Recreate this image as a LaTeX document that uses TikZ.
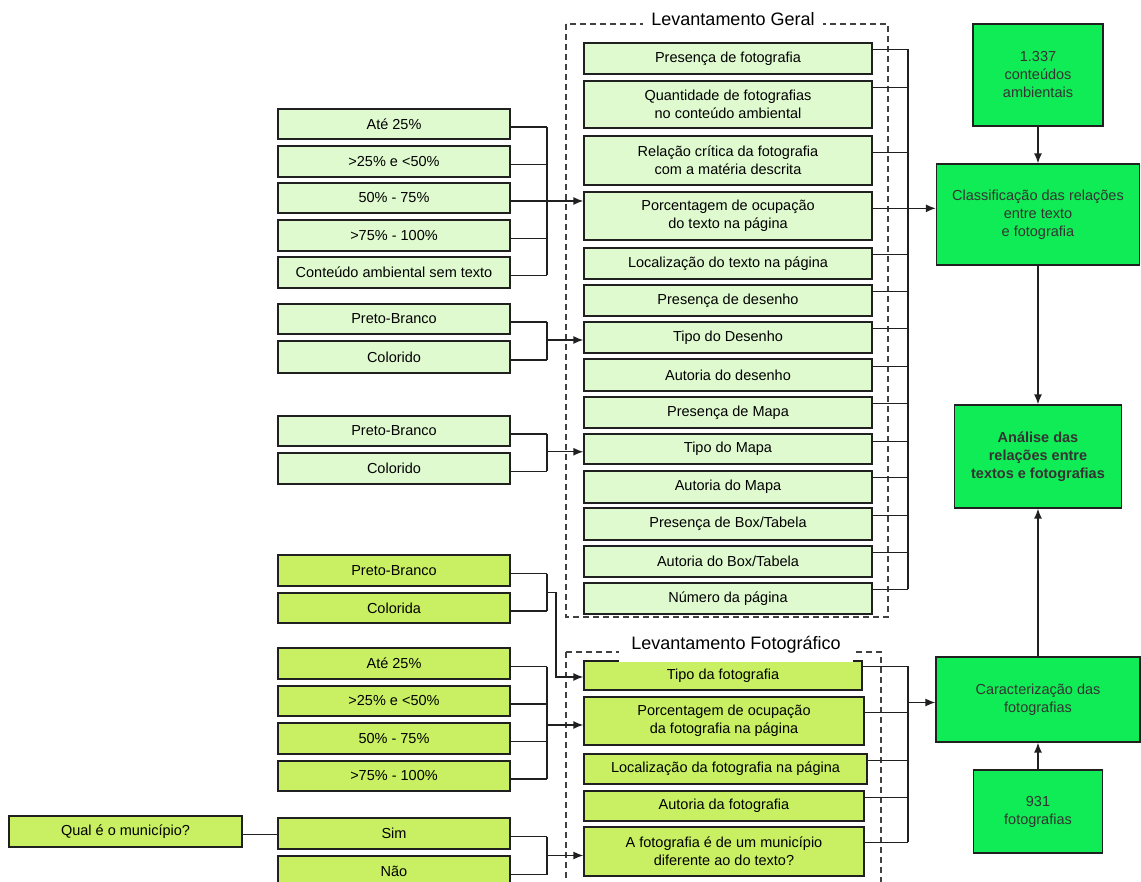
\documentclass[tikz,border=0pt]{standalone}
\usepackage{fontspec}
\setmainfont{Liberation Sans}
\usetikzlibrary{arrows.meta,calc}
\definecolor{lg}{HTML}{E0FAD0}
\definecolor{yg}{HTML}{C8F062}
\definecolor{bg}{HTML}{10EC55}
\definecolor{ln}{HTML}{202020}
\begin{document}
\begin{tikzpicture}[x=1pt,y=-1pt,
 every node/.style={font=\fontsize{14.5}{18}\selectfont},
 boxL/.style={draw=ln, line width=1.3pt, fill=lg, align=center, inner sep=0pt},
 boxY/.style={boxL, fill=yg},
 boxG/.style={boxL, fill=bg, text=black!80},
 conn/.style={draw=ln, line width=1.4pt},
 arr/.style={conn, -{Latex[length=10pt,width=8pt]}},
 frame/.style={draw=ln!85, line width=1.4pt, dash pattern=on 6pt off 4pt},
 ttl/.style={fill=white, font=\fontsize{18}{20}\selectfont, inner ysep=2pt}
]
\useasboundingbox (0,0) rectangle (1141,882);
\clip (0,0) rectangle (1141,882);

% frames
\draw[frame] (566,24) rectangle (888,617);
\draw[frame] (566,652) rectangle (881,900);

% Levantamento Geral boxes
\node[boxL, minimum width=288pt, minimum height=31pt] (b1) at (728,58.5) {Presença de fotografia};
\node[boxL, minimum width=288pt, minimum height=47pt] (b2) at (728,104.5) {Quantidade de fotografias\\no conteúdo ambiental};
\node[boxL, minimum width=288pt, minimum height=49pt] (b3) at (728,160.5) {Relação crítica da fotografia\\com a matéria descrita};
\node[boxL, minimum width=288pt, minimum height=48pt] (b4) at (728,216) {Porcentagem de ocupação\\do texto na página};
\node[boxL, minimum width=288pt, minimum height=31pt] (b5) at (728,263.5) {Localização do texto na página};
\node[boxL, minimum width=288pt, minimum height=31pt] (b6) at (728,300.5) {Presença de desenho};
\node[boxL, minimum width=288pt, minimum height=31pt] (b7) at (728,337.5) {Tipo do Desenho};
\node[boxL, minimum width=288pt, minimum height=32pt] (b8) at (728,375) {Autoria do desenho};
\node[boxL, minimum width=288pt, minimum height=31pt] (b9) at (728,412.5) {Presença de Mapa};
\node[boxL, minimum width=288pt, minimum height=30pt] (b10) at (728,449) {Tipo do Mapa};
\node[boxL, minimum width=288pt, minimum height=32pt] (b11) at (728,487) {Autoria do Mapa};
\node[boxL, minimum width=288pt, minimum height=32pt] (b12) at (728,524) {Presença de Box/Tabela};
\node[boxL, minimum width=288pt, minimum height=31pt] (b13) at (728,561.5) {Autoria do Box/Tabela};
\node[boxL, minimum width=288pt, minimum height=31pt] (b14) at (728,598.5) {Número da página};

% Levantamento Fotografico boxes
\node[boxY, minimum width=278pt, minimum height=29pt] (f1) at (723,675.5) {Tipo da fotografia};
\node[boxY, minimum width=280pt, minimum height=48pt] (f2) at (724,721) {Porcentagem de ocupação\\da fotografia na página};
\node[boxY, minimum width=283pt, minimum height=30pt] (f3) at (725.5,769) {Localização da fotografia na página};
\node[boxY, minimum width=280pt, minimum height=30pt] (f4) at (724,806) {Autoria da fotografia};
\node[boxY, minimum width=280pt, minimum height=49pt] (f5) at (724,851.5) {A fotografia é de um município\\diferente ao do texto?};

% left groups
\node[boxL, minimum width=232pt, minimum height=30pt] (g1) at (394,124) {Até 25\%};
\node[boxL, minimum width=232pt, minimum height=31pt] (g2) at (394,161.5) {>25\% e <50\%};
\node[boxL, minimum width=232pt, minimum height=30pt] (g3) at (394,198) {50\% - 75\%};
\node[boxL, minimum width=232pt, minimum height=31pt] (g4) at (394,235.5) {>75\% - 100\%};
\node[boxL, minimum width=232pt, minimum height=31pt] (g5) at (394,272.5) {Conteúdo ambiental sem texto};

\node[boxL, minimum width=232pt, minimum height=30pt] (h1) at (394,319) {Preto-Branco};
\node[boxL, minimum width=232pt, minimum height=32pt] (h2) at (394,357) {Colorido};

\node[boxL, minimum width=232pt, minimum height=30pt] (m1) at (394,431) {Preto-Branco};
\node[boxL, minimum width=232pt, minimum height=31pt] (m2) at (394,468.5) {Colorido};

\node[boxY, minimum width=232pt, minimum height=31pt] (p1) at (394,570.5) {Preto-Branco};
\node[boxY, minimum width=232pt, minimum height=30pt] (p2) at (394,608) {Colorida};

\node[boxY, minimum width=232pt, minimum height=31pt] (q1) at (394,663.5) {Até 25\%};
\node[boxY, minimum width=232pt, minimum height=30pt] (q2) at (394,701) {>25\% e <50\%};
\node[boxY, minimum width=232pt, minimum height=31pt] (q3) at (394,738.5) {50\% - 75\%};
\node[boxY, minimum width=232pt, minimum height=30pt] (q4) at (394,776) {>75\% - 100\%};

\node[boxY, minimum width=232pt, minimum height=31pt] (s1) at (394,833.5) {Sim};
\node[boxY, minimum width=232pt, minimum height=31pt] (s2) at (394,871.5) {Não};

\node[boxY, minimum width=233pt, minimum height=31pt] (qual) at (125.5,831.5) {Qual é o município?};

% right boxes
\node[boxG, minimum width=130pt, minimum height=102pt] (r1) at (1038,75) {1.337\\conteúdos\\ambientais};
\node[boxG, minimum width=203pt, minimum height=101pt] (cls) at (1038,214.5) {Classificação das relações\\entre texto\\e fotografia};
\node[boxG, minimum width=167pt, minimum height=103pt] (ana) at (1038,456.5) {\textbf{Análise das}\\\textbf{relações entre}\\\textbf{textos e fotografias}};
\node[boxG, minimum width=204pt, minimum height=85pt] (car) at (1038,699.5) {Caracterização das\\fotografias};
\node[boxG, minimum width=129pt, minimum height=83pt] (r931) at (1038,811.5) {931\\fotografias};

% bus coordinates
\coordinate (bl) at (547,0);
\coordinate (br) at (908,0);

% group 1
\foreach \n in {g1,g2,g3,g4,g5}
  \draw[conn] ([yshift=-3pt]\n.east) -- ([yshift=-3pt]\n.east -| bl);
\draw[conn] ([yshift=-3pt]g1.east -| bl) -- ([yshift=-3pt]g5.east -| bl);
\draw[arr] ([yshift=-3pt]g3.east -| bl) -- ([yshift=-3pt]g3.east -| b4.west);

% group 2
\foreach \n in {h1,h2}
  \draw[conn] ([yshift=-3pt]\n.east) -- ([yshift=-3pt]\n.east -| bl);
\draw[conn] ([yshift=-3pt]h1.east -| bl) -- ([yshift=-3pt]h2.east -| bl);
\coordinate (h12) at ($(h1.east -| bl)!0.5!(h2.east -| bl)$);
\draw[arr] ([yshift=-2pt]h12) -- ([yshift=-2pt]h12 -| b7.west);

% group 3
\foreach \n in {m1,m2}
  \draw[conn] ([yshift=-3pt]\n.east) -- ([yshift=-3pt]\n.east -| bl);
\draw[conn] ([yshift=-3pt]m1.east -| bl) -- ([yshift=-3pt]m2.east -| bl);
\coordinate (m12) at ($(m1.east -| bl)!0.5!(m2.east -| bl)$);
\draw[arr] ([yshift=-2pt]m12) -- ([yshift=-2pt]m12 -| b10.west);

% group 4
\foreach \n in {p1,p2}
  \draw[conn] ([yshift=-3pt]\n.east) -- ([yshift=-3pt]\n.east -| bl);
\draw[conn] ([yshift=-3pt]p1.east -| bl) -- ([yshift=-3pt]p2.east -| bl);
\coordinate (p12) at ($(p1.east -| bl)!0.5!(p2.east -| bl)$);
\draw[arr] ([yshift=-3pt]p12) -- ++(9,0) |- ([yshift=-1.5pt]f1.west);

% group 5
\foreach \n in {q1,q2,q3,q4}
  \draw[conn] ([yshift=-3pt]\n.east) -- ([yshift=-3pt]\n.east -| bl);
\draw[conn] ([yshift=-3pt]q1.east -| bl) -- ([yshift=-3pt]q4.east -| bl);
\draw[arr] ([yshift=-4pt]f2.west -| bl) -- ([yshift=-4pt]f2.west);

% group 6
\foreach \n in {s1,s2}
  \draw[conn] ([yshift=-3pt]\n.east) -- ([yshift=-3pt]\n.east -| bl);
\draw[conn] ([yshift=-3pt]s1.east -| bl) -- ([yshift=-3pt]s2.east -| bl);
\coordinate (s12) at ($(s1.east -| bl)!0.5!(s2.east -| bl)$);
\draw[arr] ([yshift=-3pt]s12) -- ([yshift=-3pt]s12 -| f5.west);

\draw[conn] ([yshift=-3pt]qual.east) -- ([yshift=-3pt]qual.east -| s1.west);

% right bus Geral
\foreach \n/\o in {b1/7pt,b2/7pt,b3/17pt,b4/17pt,b5/7pt,b6/7pt,b7/7pt,b8/8pt,b9/7pt,b10/8pt,b11/7pt,b12/8pt,b13/7pt,b14/7pt}
  \draw[conn] ([yshift=-\o]\n.north east) -- ([yshift=-\o]\n.north east -| br);
\draw[conn] ([yshift=-7pt]b1.north east -| br) -- ([yshift=-7pt]b14.north east -| br);
\draw[arr] ([yshift=-17pt]b4.north east -| br) -- ([yshift=-17pt]b4.north east -| cls.west);

% right bus Fotografico
\foreach \n/\o in {f1/6pt,f2/16pt,f3/7pt,f4/7pt,f5/16pt}
  \draw[conn] ([yshift=-\o]\n.north east) -- ([yshift=-\o]\n.north east -| br);
\draw[conn] ([yshift=-6pt]f1.north east -| br) -- ([yshift=-16pt]f5.north east -| br);
\draw[arr] ([yshift=-3pt]car.west -| br) -- ([yshift=-3pt]car.west);

% vertical arrows
\draw[arr] (r1.south) -- (cls.north);
\draw[arr] (cls.south) -- (ana.north);
\draw[arr] (car.north) -- (ana.south);
\draw[arr] (r931.north) -- (car.south);

% titles
\node[ttl, inner xsep=8pt] (tg) at (733,19) {Levantamento Geral};
\node[ttl, inner xsep=12pt, minimum height=34pt] (tf) at (736,645) {Levantamento Fotográfico};
\end{tikzpicture}
\end{document}
